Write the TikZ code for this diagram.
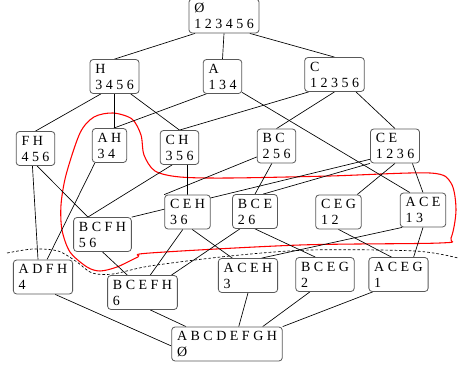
\documentclass[tikz,border=0pt]{standalone}
\usepackage{fontspec}
\setmainfont{Liberation Serif}
\usepackage{tikz}
\usetikzlibrary{backgrounds}

\begin{document}
\begin{tikzpicture}[
	x=0.75pt, y=-0.75pt,
	every node/.style={font=\fontsize{10.5}{12}\selectfont},
	concept/.style={shape=rectangle, rounded corners=2.5pt, draw=black!65, fill=white, line width=0.6pt, align=left, inner xsep=4pt, inner ysep=2pt, minimum height=25.5pt},
	edge/.style={line width=0.5pt},
	cutline/.style={dashed, dash pattern=on 2pt off 1.5pt, line width=0.5pt},
	region/.style={red, line width=0.8pt},
]
\useasboundingbox (0,0) rectangle (458,367);

\node[concept] (top) at (224,16) {Ø\\1 2 3 4 5 6};
\node[concept] (H) at (114.5,76.5) {H\\3 4 5 6};
\node[concept] (A) at (222.5,76.5) {A\\1 3 4};
\node[concept] (C) at (334.5,74.5) {C\\1 2 3 5 6};
\node[concept] (FH) at (35.5,148.5) {F H\\4 5 6};
\node[concept] (AH) at (109.5,145.5) {A H\\3 4};
\node[concept] (CH) at (179.5,147.5) {C H\\3 5 6};
\node[concept] (BC) at (276.5,146) {B C\\2 5 6};
\node[concept] (CE) at (395,146) {C E\\1 2 3 6};
\node[concept] (BCFH) at (102.5,234.5) {B C F H\\5 6};
\node[concept] (CEH) at (187.5,212) {C E H\\3 6};
\node[concept] (BCE) at (255,211.5) {B C E\\2 6};
\node[concept] (CEG) at (338.5,212) {C E G\\1 2};
\node[concept] (ACE) at (423,210) {A C E\\1 3};
\node[concept] (ADFH) at (43,277) {A D F H\\4};
\node[concept] (BCEFH) at (142.5,292.5) {B C E F H\\6};
\node[concept] (ACEH) at (248,275.5) {A C E H\\3};
\node[concept] (BCEG) at (325,274.5) {B C E G\\2};
\node[concept] (ACEG) at (398.5,274.5) {A C E G\\1};
\node[concept] (bot) at (227,344) {A B C D E F G H\\Ø};

\begin{scope}[on background layer]
\draw[region] plot[smooth cycle] coordinates {(113,113) (132,119) (141,135) (144,155) (155,171) (180,177) (230,178) (330,176) (430,173) (451,183) (456,210) (451,238) (440,243) (300,245) (150,253) (138,257) (117,267) (100,271) (87,267) (70,252) (62,230) (61,205) (66,175) (80,133) (94,117)};
\draw[cutline] plot[smooth] coordinates {(7,253) (33,249) (58,251) (77,262) (92,273) (113,274) (150,266) (230,256) (310,250) (415,251) (458,258)};

\draw[edge] (top.211) -- (H.north);
\draw[edge] (top.south) -- (A.north);
\draw[edge] (top.326) -- (C.north);
\draw[edge] (H.232) -- (FH.north);
\draw[edge] (H.south) -- (H.south |- AH.north);
\draw[edge] (H.313) -- (CH.north);
\draw[edge] (A.227) -- (AH.76);
\draw[edge] (A.321) -- (ACE.127);
\draw[edge] (C.214) -- (CH.north);
\draw[edge] (C.south) -- (BC.north);
\draw[edge] (C.321) -- (CE.north);
\draw[edge] (FH.260) -- (ADFH.106);
\draw[edge] (FH.275) -- (BCFH.130);
\draw[edge] (AH.230) -- (ADFH.77);
\draw[edge] (CH.247) -- (BCFH.130);
\draw[edge] (CEH.north |- CH.south) -- (CEH.north);
\draw[edge] (BC.209) -- (CEH.north west);
\draw[edge] (BC.255) -- (BCE.north);
\draw[edge] (CE.208) -- (BCFH.north east);
\draw[edge] (CE.south west) -- (BCE.65);
\draw[edge] (CE.south) -- (CEG.43);
\draw[edge] (CE.315) -- (ACE.north);
\draw[edge] (BCFH.south) -- (BCEFH.131);
\draw[edge] (CEH.255) -- (BCEFH.66);
\draw[edge] (CEH.285) -- (ACEH.132);
\draw[edge] (BCE.229) -- (BCEFH.31);
\draw[edge] (BCE.south) -- (BCEG.119);
\draw[edge] (CEG.south) -- (ACEG.112);
\draw[edge] (ACE.220) -- (ACEH.52);
\draw[edge] (ACE.south) -- (ACEG.49);
\draw[edge] (ADFH.305) -- (bot.182);
\draw[edge] (BCEFH.294) -- (bot.157);
\draw[edge] (ACEH.south) -- (bot.56);
\draw[edge] (BCEG.229) -- (bot.26);
\draw[edge] (ACEG.214) -- (bot.north east);
\end{scope}
\end{tikzpicture}
\end{document}
